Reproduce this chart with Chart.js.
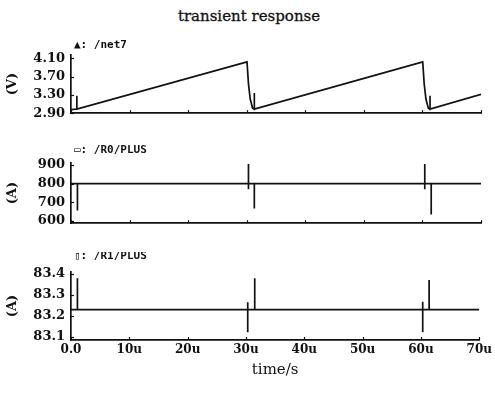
<!DOCTYPE html>
<html>
<head>
<meta charset="utf-8">
<script src="https://cdn.jsdelivr.net/npm/chart.js@4.4.0/dist/chart.umd.min.js"></script>
<style>
  html, body { margin: 0; padding: 0; background: #fff; }
  body { width: 495px; height: 393px; position: relative; overflow: hidden; }
  .panel { position: absolute; left: 0; width: 495px; }
  #title { position: absolute; left: 0; width: 498px; top: 7px; text-align: center;
           font: 15px "DejaVu Serif"; color: #111; -webkit-text-stroke: 0.3px #111; }
</style>
</head>
<body>
<div id="title">transient response</div>
<div class="panel" style="top:35px;height:92px"><canvas id="c1"></canvas></div>
<div class="panel" style="top:143px;height:94px"><canvas id="c2"></canvas></div>
<div class="panel" style="top:252px;height:128px"><canvas id="c3"></canvas></div>
<script>
// time axis, in microseconds
const xTicks = [0, 10, 20, 30, 40, 50, 60, 70];
const xTickLabels = ['0.0', '10u', '20u', '30u', '40u', '50u', '60u', '70u'];

// /net7 voltage (V)
const net7Time = [0, 1.0, 1.0, 1.0, 30.05, 30.3, 30.6, 31.0, 31.3, 31.3, 31.3, 60.05, 60.3, 60.6, 61.0, 61.3, 61.3, 61.3, 70];
const net7Volt = [2.98, 2.99, 3.28, 2.99, 4.02, 3.54, 3.21, 3.01, 2.99, 3.34, 2.99, 4.02, 3.54, 3.21, 3.01, 2.99, 3.28, 2.99, 3.31];
const net7Ticks = [2.90, 3.30, 3.70, 4.10];
const net7TickLabels = ['2.90', '3.30', '3.70', '4.10'];

// /R0/PLUS current (A)
const r0Time = [0, 1.1, 1.1, 1.1, 30.3, 30.3, 30.3, 30.3, 31.3, 31.3, 31.3, 60.4, 60.4, 60.4, 60.4, 61.5, 61.5, 61.5, 70];
const r0Amp = [800, 800, 656, 800, 800, 905, 770, 800, 800, 666, 800, 800, 905, 770, 800, 800, 635, 800, 800];
const r0Ticks = [600, 700, 800, 900];
const r0TickLabels = ['600', '700', '800', '900'];

// /R1/PLUS current (A)
const r1Time = [0, 1.1, 1.1, 1.1, 30.3, 30.3, 30.3, 30.3, 31.5, 31.5, 31.5, 60.3, 60.3, 60.3, 60.3, 61.4, 61.4, 61.4, 70];
const r1Amp = [83.23, 83.23, 83.38, 83.23, 83.23, 83.265, 83.122, 83.23, 83.23, 83.38, 83.23, 83.23, 83.268, 83.122, 83.23, 83.23, 83.372, 83.23, 83.23];
const r1Ticks = [83.1, 83.2, 83.3, 83.4];
const r1TickLabels = ['83.1', '83.2', '83.3', '83.4'];

const ink = '#111';
const serifBold = size => ({ family: 'DejaVu Serif', size: size, weight: 'bold' });

// signal name above each panel + small inward tick marks
const panelDecor = {
  id: 'panelDecor',
  afterDraw(chart, args, opts) {
    const { ctx, chartArea, scales } = chart;
    ctx.save();
    ctx.strokeStyle = ink;
    ctx.lineWidth = 1.2;
    xTicks.forEach(v => {
      const px = Math.round(scales.x.getPixelForValue(v)) + 0.5;
      ctx.beginPath();
      ctx.moveTo(px, chartArea.bottom);
      ctx.lineTo(px, chartArea.bottom - 3);
      ctx.stroke();
    });
    scales.y.ticks.forEach(t => {
      const py = Math.round(scales.y.getPixelForValue(t.value)) + 0.5;
      ctx.beginPath();
      ctx.moveTo(chartArea.left, py);
      ctx.lineTo(chartArea.left + 3, py);
      ctx.stroke();
    });
    ctx.fillStyle = ink;
    ctx.font = 'bold 11px "DejaVu Sans Mono"';
    ctx.textBaseline = 'middle';
    ctx.fillText(opts.label, chartArea.left + 3, chartArea.top + opts.dy);
    ctx.restore();
  }
};

function panelChart(id, times, values, yMin, yMax, yTicks, yLabels, unit, label, dy, showX) {
  return new Chart(document.getElementById(id), {
    type: 'line',
    data: {
      datasets: [{
        data: times.map((t, i) => ({ x: t, y: values[i] })),
        borderColor: ink,
        borderWidth: 1.7,
        pointRadius: 0,
        tension: 0,
        fill: false
      }]
    },
    options: {
      responsive: true,
      maintainAspectRatio: false,
      animation: false,
      layout: { padding: { left: 0, right: 14, top: 20, bottom: showX ? 0 : 8 } },
      plugins: {
        legend: { display: false },
        tooltip: { enabled: false },
        panelDecor: { label: label, dy: dy }
      },
      scales: {
        x: {
          type: 'linear',
          min: 0,
          max: 70,
          afterBuildTicks: s => { s.ticks = xTicks.map(v => ({ value: v })); },
          grid: { display: false, drawTicks: false },
          border: { display: true, color: ink, width: 1.7 },
          ticks: {
            display: showX, padding: 3, color: ink, font: serifBold(12),
            maxRotation: 0, autoSkip: false,
            callback: (v, i) => xTickLabels[i]
          },
          title: {
            display: showX, text: 'time/s', color: ink,
            font: { family: 'DejaVu Serif', size: 15 },
            padding: { top: 0, bottom: 1 }
          },
          afterFit: s => { s.height = showX ? 40 : 0; }
        },
        y: {
          type: 'linear',
          min: yMin,
          max: yMax,
          afterBuildTicks: s => { s.ticks = yTicks.map(v => ({ value: v })); },
          grid: { display: false, drawTicks: false },
          border: { display: true, color: ink, width: 1.7 },
          ticks: {
            padding: 6, color: ink, font: serifBold(13), autoSkip: false,
            callback: (v, i) => yLabels[i]
          },
          title: {
            display: true, text: unit, color: ink, font: serifBold(13),
            padding: { top: 5, bottom: 0 }
          },
          afterFit: s => { s.width = 71; }
        }
      }
    },
    plugins: [panelDecor]
  });
}

panelChart('c1', net7Time, net7Volt, 2.90, 4.17, net7Ticks, net7TickLabels, '(V)', '\u25B2: /net7', -10, false);
panelChart('c2', r0Time, r0Amp, 588, 910, r0Ticks, r0TickLabels, '(A)', '\u25AD: /R0/PLUS', -13, false);
panelChart('c3', r1Time, r1Amp, 83.085, 83.41, r1Ticks, r1TickLabels, '(A)', '\u25AF: /R1/PLUS', -16, true);
</script>
</body>
</html>
